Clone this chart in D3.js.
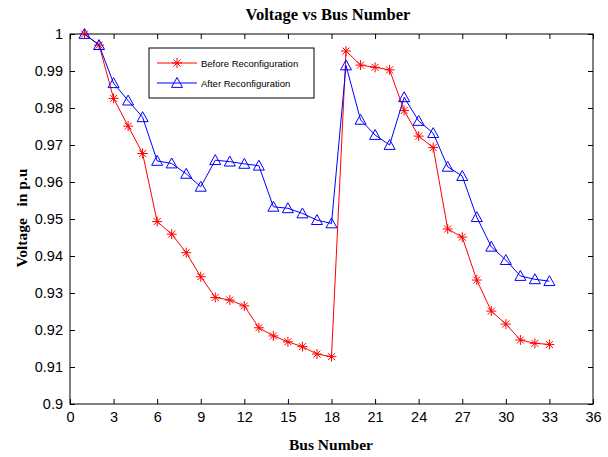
<!DOCTYPE html>
<html>
<head>
<meta charset="utf-8">
<script src="https://cdn.jsdelivr.net/npm/d3@7"></script>
<style>
body { margin: 0; background: #fff; }
</style>
</head>
<body>
<script>
const buses = d3.range(1, 34)
const before = [1.0, 0.997, 0.9826, 0.9751, 0.9677, 0.9493, 0.9459, 0.9409, 0.9344, 0.9288,
    0.9281, 0.9265, 0.9206, 0.9184, 0.9168, 0.9155, 0.9135, 0.9128, 0.9954, 0.9916,
    0.991, 0.9903, 0.9793, 0.9724, 0.9693, 0.9473, 0.9451, 0.9335, 0.9251, 0.9216,
    0.9173, 0.9164, 0.9161]
const after = [1.0, 0.997, 0.9867, 0.982, 0.9775, 0.9657, 0.965, 0.9622, 0.9587, 0.9659,
    0.9655, 0.9649, 0.9644, 0.9533, 0.9529, 0.9515, 0.9497, 0.9488, 0.9915, 0.9768,
    0.9727, 0.970, 0.9829, 0.9765, 0.9732, 0.9641, 0.9616, 0.9505, 0.9425, 0.9389,
    0.9346, 0.9337, 0.9332]
const xTicks = d3.range(0, 37, 3)
const yTicks = [0.9, 0.91, 0.92, 0.93, 0.94, 0.95, 0.96, 0.97, 0.98, 0.99, 1]
const seriesNames = ['Before Reconfiguration', 'After Reconfiguration']

let width = 608
let height = 457
let mLeft = 70, mRight = 593, mTop = 34, mBottom = 404

const svg = d3.select('body')
    .append('svg')
    .attr('width', width)
    .attr('height', height)

const x = d3.scaleLinear().domain([0, 36]).range([mLeft, mRight])
const y = d3.scaleLinear().domain([0.9, 1]).range([mBottom, mTop])

// ticks on all four sides, pointing inward
const tickFont = 'Liberation Sans, Arial, sans-serif'
const axB = svg.append('g').attr('transform', `translate(0,${mBottom})`)
    .call(d3.axisBottom(x).tickValues(xTicks).tickSize(-5).tickPadding(8).tickFormat(d3.format('d')))
const axT = svg.append('g').attr('transform', `translate(0,${mTop})`)
    .call(d3.axisTop(x).tickValues(xTicks).tickSize(-5).tickFormat(''))
const axL = svg.append('g').attr('transform', `translate(${mLeft},0)`)
    .call(d3.axisLeft(y).tickValues(yTicks).tickSize(-5).tickPadding(7).tickFormat(d3.format('~g')))
const axR = svg.append('g').attr('transform', `translate(${mRight},0)`)
    .call(d3.axisRight(y).tickValues(yTicks).tickSize(-5).tickFormat(''))

;[axB, axT, axL, axR].forEach(a => {
    a.select('.domain').remove()
    a.selectAll('line').attr('stroke', '#000')
    a.selectAll('text').attr('font-family', tickFont).attr('font-size', 14.5).attr('fill', '#000')
})

svg.append('rect')
    .attr('x', mLeft).attr('y', mTop)
    .attr('width', mRight - mLeft).attr('height', mBottom - mTop)
    .attr('fill', 'none').attr('stroke', '#000').attr('stroke-width', 1)

const line = d3.line().x((d, i) => x(buses[i])).y(d => y(d))

function star(g, cx, cy, r, color) {
    const s = r * 0.7
    g.append('path')
        .attr('d', `M${cx - r},${cy}H${cx + r}M${cx},${cy - r}V${cy + r}M${cx - s},${cy - s}L${cx + s},${cy + s}M${cx - s},${cy + s}L${cx + s},${cy - s}`)
        .attr('stroke', color).attr('stroke-width', 1).attr('fill', 'none')
}
function tri(g, cx, cy, r, color) {
    g.append('path')
        .attr('d', `M${cx},${cy - r}L${cx + r},${cy + r * 0.8}L${cx - r},${cy + r * 0.8}Z`)
        .attr('stroke', color).attr('stroke-width', 1).attr('fill', 'none')
}

const gBefore = svg.append('g')
gBefore.append('path').datum(before).attr('d', line)
    .attr('fill', 'none').attr('stroke', '#ff0000').attr('stroke-width', 1)
before.forEach((v, i) => star(gBefore, x(buses[i]), y(v), 5, '#ff0000'))

const gAfter = svg.append('g')
gAfter.append('path').datum(after).attr('d', line)
    .attr('fill', 'none').attr('stroke', '#0000ff').attr('stroke-width', 1)
after.forEach((v, i) => tri(gAfter, x(buses[i]), y(v), 5.5, '#0000ff'))

// legend
const lg = svg.append('g')
lg.append('rect').attr('x', 149).attr('y', 48).attr('width', 165).attr('height', 50)
    .attr('fill', '#fff').attr('stroke', '#000').attr('stroke-width', 1)
const colors = ['#ff0000', '#0000ff']
seriesNames.forEach((n, i) => {
    const ly = 63 + i * 20
    lg.append('line').attr('x1', 157).attr('x2', 197).attr('y1', ly).attr('y2', ly)
        .attr('stroke', colors[i]).attr('stroke-width', 1)
    if (i === 0) star(lg, 177, ly, 5, colors[i])
    else tri(lg, 177, ly, 5.5, colors[i])
    lg.append('text').attr('x', 201).attr('y', ly + 3.5).text(n)
        .attr('font-family', tickFont).attr('font-size', 9.5).attr('fill', '#000')
})

const serif = 'Liberation Serif, Times New Roman, serif'
svg.append('text').attr('x', 328).attr('y', 20)
    .attr('text-anchor', 'middle').attr('font-family', serif).attr('font-weight', 'bold')
    .attr('font-size', 16.5).text('Voltage vs Bus Number')
svg.append('text').attr('x', 331).attr('y', 450)
    .attr('text-anchor', 'middle').attr('font-family', serif).attr('font-weight', 'bold')
    .attr('font-size', 15.5).text('Bus Number')
svg.append('text').attr('transform', `translate(27,218) rotate(-90)`)
    .attr('text-anchor', 'middle').attr('font-family', serif).attr('font-weight', 'bold')
    .attr('font-size', 15.5).style('white-space', 'pre')
    .text('Voltage   in p.u')
</script>
</body>
</html>
